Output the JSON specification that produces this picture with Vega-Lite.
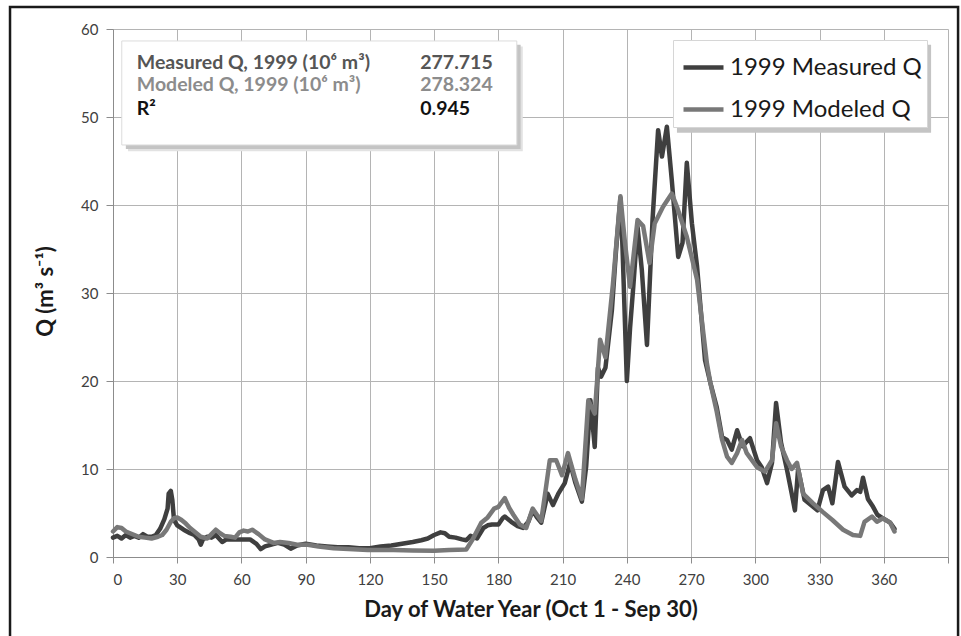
{
  "$schema": "https://vega.github.io/schema/vega-lite/v6.json",
  "width": 835,
  "height": 528,
  "autosize": {"type": "none"},
  "padding": {"left": 113, "top": 29, "right": 13, "bottom": 79},
  "background": "white",
  "config": {"view": {"stroke": null}, "font": "Lato"},
  "datasets": {
    "flow": [
      {"day": 0, "Q": 2.2, "series": "1999 Measured Q"},
      {"day": 2, "Q": 2.4, "series": "1999 Measured Q"},
      {"day": 4, "Q": 2.1, "series": "1999 Measured Q"},
      {"day": 6, "Q": 2.5, "series": "1999 Measured Q"},
      {"day": 8, "Q": 2.2, "series": "1999 Measured Q"},
      {"day": 10, "Q": 2.4, "series": "1999 Measured Q"},
      {"day": 12, "Q": 2.2, "series": "1999 Measured Q"},
      {"day": 14, "Q": 2.6, "series": "1999 Measured Q"},
      {"day": 16, "Q": 2.3, "series": "1999 Measured Q"},
      {"day": 18, "Q": 2.3, "series": "1999 Measured Q"},
      {"day": 20, "Q": 2.5, "series": "1999 Measured Q"},
      {"day": 22, "Q": 3.2, "series": "1999 Measured Q"},
      {"day": 24, "Q": 4.3, "series": "1999 Measured Q"},
      {"day": 25.5, "Q": 5.5, "series": "1999 Measured Q"},
      {"day": 26, "Q": 7.2, "series": "1999 Measured Q"},
      {"day": 27, "Q": 7.5, "series": "1999 Measured Q"},
      {"day": 27.7, "Q": 6.5, "series": "1999 Measured Q"},
      {"day": 28.5, "Q": 4.2, "series": "1999 Measured Q"},
      {"day": 30, "Q": 3.6, "series": "1999 Measured Q"},
      {"day": 33, "Q": 3.1, "series": "1999 Measured Q"},
      {"day": 36, "Q": 2.7, "series": "1999 Measured Q"},
      {"day": 38, "Q": 2.5, "series": "1999 Measured Q"},
      {"day": 40, "Q": 2.0, "series": "1999 Measured Q"},
      {"day": 41, "Q": 1.4, "series": "1999 Measured Q"},
      {"day": 42, "Q": 2.0, "series": "1999 Measured Q"},
      {"day": 44, "Q": 2.3, "series": "1999 Measured Q"},
      {"day": 46, "Q": 2.2, "series": "1999 Measured Q"},
      {"day": 48, "Q": 2.5, "series": "1999 Measured Q"},
      {"day": 51, "Q": 1.7, "series": "1999 Measured Q"},
      {"day": 53, "Q": 2.0, "series": "1999 Measured Q"},
      {"day": 57, "Q": 2.0, "series": "1999 Measured Q"},
      {"day": 60, "Q": 2.0, "series": "1999 Measured Q"},
      {"day": 64, "Q": 2.0, "series": "1999 Measured Q"},
      {"day": 67, "Q": 1.5, "series": "1999 Measured Q"},
      {"day": 69, "Q": 0.9, "series": "1999 Measured Q"},
      {"day": 71, "Q": 1.2, "series": "1999 Measured Q"},
      {"day": 74, "Q": 1.4, "series": "1999 Measured Q"},
      {"day": 77, "Q": 1.6, "series": "1999 Measured Q"},
      {"day": 80, "Q": 1.4, "series": "1999 Measured Q"},
      {"day": 83, "Q": 0.95, "series": "1999 Measured Q"},
      {"day": 86, "Q": 1.3, "series": "1999 Measured Q"},
      {"day": 90, "Q": 1.5, "series": "1999 Measured Q"},
      {"day": 95, "Q": 1.3, "series": "1999 Measured Q"},
      {"day": 100, "Q": 1.2, "series": "1999 Measured Q"},
      {"day": 105, "Q": 1.1, "series": "1999 Measured Q"},
      {"day": 110, "Q": 1.1, "series": "1999 Measured Q"},
      {"day": 115, "Q": 1.0, "series": "1999 Measured Q"},
      {"day": 120, "Q": 1.0, "series": "1999 Measured Q"},
      {"day": 125, "Q": 1.2, "series": "1999 Measured Q"},
      {"day": 130, "Q": 1.3, "series": "1999 Measured Q"},
      {"day": 135, "Q": 1.5, "series": "1999 Measured Q"},
      {"day": 140, "Q": 1.7, "series": "1999 Measured Q"},
      {"day": 144, "Q": 1.9, "series": "1999 Measured Q"},
      {"day": 147, "Q": 2.1, "series": "1999 Measured Q"},
      {"day": 150, "Q": 2.5, "series": "1999 Measured Q"},
      {"day": 153, "Q": 2.8, "series": "1999 Measured Q"},
      {"day": 155, "Q": 2.7, "series": "1999 Measured Q"},
      {"day": 157, "Q": 2.3, "series": "1999 Measured Q"},
      {"day": 160, "Q": 2.2, "series": "1999 Measured Q"},
      {"day": 163, "Q": 2.0, "series": "1999 Measured Q"},
      {"day": 165, "Q": 1.9, "series": "1999 Measured Q"},
      {"day": 167, "Q": 2.4, "series": "1999 Measured Q"},
      {"day": 170, "Q": 2.1, "series": "1999 Measured Q"},
      {"day": 173, "Q": 3.3, "series": "1999 Measured Q"},
      {"day": 175, "Q": 3.6, "series": "1999 Measured Q"},
      {"day": 177, "Q": 3.7, "series": "1999 Measured Q"},
      {"day": 180, "Q": 3.7, "series": "1999 Measured Q"},
      {"day": 182, "Q": 4.4, "series": "1999 Measured Q"},
      {"day": 183, "Q": 4.6, "series": "1999 Measured Q"},
      {"day": 186, "Q": 4.0, "series": "1999 Measured Q"},
      {"day": 189, "Q": 3.5, "series": "1999 Measured Q"},
      {"day": 191.5, "Q": 3.3, "series": "1999 Measured Q"},
      {"day": 194, "Q": 4.0, "series": "1999 Measured Q"},
      {"day": 196, "Q": 5.3, "series": "1999 Measured Q"},
      {"day": 198, "Q": 4.5, "series": "1999 Measured Q"},
      {"day": 200, "Q": 3.9, "series": "1999 Measured Q"},
      {"day": 203, "Q": 7.2, "series": "1999 Measured Q"},
      {"day": 205.5, "Q": 5.9, "series": "1999 Measured Q"},
      {"day": 208, "Q": 7.2, "series": "1999 Measured Q"},
      {"day": 211, "Q": 8.4, "series": "1999 Measured Q"},
      {"day": 213.5, "Q": 10.7, "series": "1999 Measured Q"},
      {"day": 216, "Q": 8.4, "series": "1999 Measured Q"},
      {"day": 219, "Q": 6.3, "series": "1999 Measured Q"},
      {"day": 221, "Q": 10.3, "series": "1999 Measured Q"},
      {"day": 223, "Q": 17.8, "series": "1999 Measured Q"},
      {"day": 225, "Q": 12.5, "series": "1999 Measured Q"},
      {"day": 226.5, "Q": 21.5, "series": "1999 Measured Q"},
      {"day": 228, "Q": 20.5, "series": "1999 Measured Q"},
      {"day": 230, "Q": 21.5, "series": "1999 Measured Q"},
      {"day": 233, "Q": 28.0, "series": "1999 Measured Q"},
      {"day": 235, "Q": 35.0, "series": "1999 Measured Q"},
      {"day": 237, "Q": 40.8, "series": "1999 Measured Q"},
      {"day": 238, "Q": 35.0, "series": "1999 Measured Q"},
      {"day": 240, "Q": 20.0, "series": "1999 Measured Q"},
      {"day": 241.5, "Q": 26.0, "series": "1999 Measured Q"},
      {"day": 243, "Q": 30.7, "series": "1999 Measured Q"},
      {"day": 245, "Q": 37.5, "series": "1999 Measured Q"},
      {"day": 247, "Q": 32.6, "series": "1999 Measured Q"},
      {"day": 249.4, "Q": 24.1, "series": "1999 Measured Q"},
      {"day": 252, "Q": 38.3, "series": "1999 Measured Q"},
      {"day": 254.6, "Q": 48.5, "series": "1999 Measured Q"},
      {"day": 256.4, "Q": 45.5, "series": "1999 Measured Q"},
      {"day": 258.7, "Q": 48.9, "series": "1999 Measured Q"},
      {"day": 261, "Q": 42.8, "series": "1999 Measured Q"},
      {"day": 264, "Q": 34.1, "series": "1999 Measured Q"},
      {"day": 266, "Q": 35.7, "series": "1999 Measured Q"},
      {"day": 268, "Q": 44.8, "series": "1999 Measured Q"},
      {"day": 270.4, "Q": 37.9, "series": "1999 Measured Q"},
      {"day": 272.8, "Q": 33.0, "series": "1999 Measured Q"},
      {"day": 276.5, "Q": 22.4, "series": "1999 Measured Q"},
      {"day": 279, "Q": 19.8, "series": "1999 Measured Q"},
      {"day": 282, "Q": 17.0, "series": "1999 Measured Q"},
      {"day": 284.5, "Q": 13.6, "series": "1999 Measured Q"},
      {"day": 286.8, "Q": 13.3, "series": "1999 Measured Q"},
      {"day": 289, "Q": 12.2, "series": "1999 Measured Q"},
      {"day": 291.5, "Q": 14.4, "series": "1999 Measured Q"},
      {"day": 294, "Q": 12.6, "series": "1999 Measured Q"},
      {"day": 297.5, "Q": 13.5, "series": "1999 Measured Q"},
      {"day": 300.8, "Q": 11.0, "series": "1999 Measured Q"},
      {"day": 303, "Q": 10.2, "series": "1999 Measured Q"},
      {"day": 305.5, "Q": 8.4, "series": "1999 Measured Q"},
      {"day": 307.8, "Q": 10.7, "series": "1999 Measured Q"},
      {"day": 309.7, "Q": 17.5, "series": "1999 Measured Q"},
      {"day": 312, "Q": 13.0, "series": "1999 Measured Q"},
      {"day": 314.8, "Q": 9.9, "series": "1999 Measured Q"},
      {"day": 317, "Q": 7.2, "series": "1999 Measured Q"},
      {"day": 318.5, "Q": 5.3, "series": "1999 Measured Q"},
      {"day": 320, "Q": 10.0, "series": "1999 Measured Q"},
      {"day": 323, "Q": 6.5, "series": "1999 Measured Q"},
      {"day": 327, "Q": 5.7, "series": "1999 Measured Q"},
      {"day": 329, "Q": 5.3, "series": "1999 Measured Q"},
      {"day": 331.6, "Q": 7.6, "series": "1999 Measured Q"},
      {"day": 334, "Q": 8.0, "series": "1999 Measured Q"},
      {"day": 336, "Q": 6.1, "series": "1999 Measured Q"},
      {"day": 338.6, "Q": 10.8, "series": "1999 Measured Q"},
      {"day": 341.7, "Q": 8.0, "series": "1999 Measured Q"},
      {"day": 345, "Q": 7.0, "series": "1999 Measured Q"},
      {"day": 347.5, "Q": 7.6, "series": "1999 Measured Q"},
      {"day": 349, "Q": 7.4, "series": "1999 Measured Q"},
      {"day": 350.3, "Q": 9.0, "series": "1999 Measured Q"},
      {"day": 352.6, "Q": 6.6, "series": "1999 Measured Q"},
      {"day": 355, "Q": 5.7, "series": "1999 Measured Q"},
      {"day": 357, "Q": 4.8, "series": "1999 Measured Q"},
      {"day": 359.6, "Q": 4.4, "series": "1999 Measured Q"},
      {"day": 363, "Q": 3.9, "series": "1999 Measured Q"},
      {"day": 365, "Q": 3.2, "series": "1999 Measured Q"},
      {"day": 0, "Q": 2.9, "series": "1999 Modeled Q"},
      {"day": 2, "Q": 3.4, "series": "1999 Modeled Q"},
      {"day": 4, "Q": 3.3, "series": "1999 Modeled Q"},
      {"day": 6, "Q": 2.9, "series": "1999 Modeled Q"},
      {"day": 8, "Q": 2.7, "series": "1999 Modeled Q"},
      {"day": 10, "Q": 2.5, "series": "1999 Modeled Q"},
      {"day": 12, "Q": 2.3, "series": "1999 Modeled Q"},
      {"day": 15, "Q": 2.2, "series": "1999 Modeled Q"},
      {"day": 18, "Q": 2.1, "series": "1999 Modeled Q"},
      {"day": 21, "Q": 2.3, "series": "1999 Modeled Q"},
      {"day": 23, "Q": 2.5, "series": "1999 Modeled Q"},
      {"day": 25, "Q": 3.1, "series": "1999 Modeled Q"},
      {"day": 27, "Q": 4.0, "series": "1999 Modeled Q"},
      {"day": 28.5, "Q": 4.4, "series": "1999 Modeled Q"},
      {"day": 30, "Q": 4.5, "series": "1999 Modeled Q"},
      {"day": 32, "Q": 4.2, "series": "1999 Modeled Q"},
      {"day": 34, "Q": 3.8, "series": "1999 Modeled Q"},
      {"day": 36, "Q": 3.3, "series": "1999 Modeled Q"},
      {"day": 38, "Q": 2.9, "series": "1999 Modeled Q"},
      {"day": 41, "Q": 2.3, "series": "1999 Modeled Q"},
      {"day": 44, "Q": 2.1, "series": "1999 Modeled Q"},
      {"day": 46, "Q": 2.6, "series": "1999 Modeled Q"},
      {"day": 48, "Q": 3.1, "series": "1999 Modeled Q"},
      {"day": 50, "Q": 2.7, "series": "1999 Modeled Q"},
      {"day": 52, "Q": 2.4, "series": "1999 Modeled Q"},
      {"day": 55, "Q": 2.3, "series": "1999 Modeled Q"},
      {"day": 57, "Q": 2.2, "series": "1999 Modeled Q"},
      {"day": 59, "Q": 2.8, "series": "1999 Modeled Q"},
      {"day": 61, "Q": 3.0, "series": "1999 Modeled Q"},
      {"day": 63, "Q": 2.9, "series": "1999 Modeled Q"},
      {"day": 65, "Q": 3.1, "series": "1999 Modeled Q"},
      {"day": 68, "Q": 2.6, "series": "1999 Modeled Q"},
      {"day": 71, "Q": 2.0, "series": "1999 Modeled Q"},
      {"day": 75, "Q": 1.6, "series": "1999 Modeled Q"},
      {"day": 78, "Q": 1.7, "series": "1999 Modeled Q"},
      {"day": 82, "Q": 1.6, "series": "1999 Modeled Q"},
      {"day": 86, "Q": 1.4, "series": "1999 Modeled Q"},
      {"day": 91, "Q": 1.4, "series": "1999 Modeled Q"},
      {"day": 96, "Q": 1.2, "series": "1999 Modeled Q"},
      {"day": 103, "Q": 1.0, "series": "1999 Modeled Q"},
      {"day": 110, "Q": 0.9, "series": "1999 Modeled Q"},
      {"day": 119, "Q": 0.8, "series": "1999 Modeled Q"},
      {"day": 125, "Q": 0.8, "series": "1999 Modeled Q"},
      {"day": 131, "Q": 0.8, "series": "1999 Modeled Q"},
      {"day": 140, "Q": 0.75, "series": "1999 Modeled Q"},
      {"day": 150, "Q": 0.7, "series": "1999 Modeled Q"},
      {"day": 157, "Q": 0.8, "series": "1999 Modeled Q"},
      {"day": 165, "Q": 0.85, "series": "1999 Modeled Q"},
      {"day": 168, "Q": 2.0, "series": "1999 Modeled Q"},
      {"day": 172, "Q": 3.9, "series": "1999 Modeled Q"},
      {"day": 175, "Q": 4.5, "series": "1999 Modeled Q"},
      {"day": 178, "Q": 5.5, "series": "1999 Modeled Q"},
      {"day": 180, "Q": 5.7, "series": "1999 Modeled Q"},
      {"day": 183, "Q": 6.7, "series": "1999 Modeled Q"},
      {"day": 185, "Q": 5.6, "series": "1999 Modeled Q"},
      {"day": 187, "Q": 4.8, "series": "1999 Modeled Q"},
      {"day": 190, "Q": 3.7, "series": "1999 Modeled Q"},
      {"day": 193, "Q": 3.3, "series": "1999 Modeled Q"},
      {"day": 196, "Q": 5.5, "series": "1999 Modeled Q"},
      {"day": 198, "Q": 4.8, "series": "1999 Modeled Q"},
      {"day": 200, "Q": 4.1, "series": "1999 Modeled Q"},
      {"day": 202, "Q": 7.5, "series": "1999 Modeled Q"},
      {"day": 204, "Q": 11.0, "series": "1999 Modeled Q"},
      {"day": 207, "Q": 11.0, "series": "1999 Modeled Q"},
      {"day": 209.7, "Q": 9.3, "series": "1999 Modeled Q"},
      {"day": 212.5, "Q": 11.8, "series": "1999 Modeled Q"},
      {"day": 216, "Q": 8.8, "series": "1999 Modeled Q"},
      {"day": 219, "Q": 6.6, "series": "1999 Modeled Q"},
      {"day": 222, "Q": 17.8, "series": "1999 Modeled Q"},
      {"day": 225, "Q": 16.3, "series": "1999 Modeled Q"},
      {"day": 227.5, "Q": 24.7, "series": "1999 Modeled Q"},
      {"day": 230, "Q": 22.7, "series": "1999 Modeled Q"},
      {"day": 233.5, "Q": 31.0, "series": "1999 Modeled Q"},
      {"day": 237, "Q": 41.0, "series": "1999 Modeled Q"},
      {"day": 239, "Q": 36.0, "series": "1999 Modeled Q"},
      {"day": 241.5, "Q": 30.7, "series": "1999 Modeled Q"},
      {"day": 245, "Q": 38.3, "series": "1999 Modeled Q"},
      {"day": 247.6, "Q": 37.6, "series": "1999 Modeled Q"},
      {"day": 250.6, "Q": 33.4, "series": "1999 Modeled Q"},
      {"day": 253, "Q": 37.9, "series": "1999 Modeled Q"},
      {"day": 256.9, "Q": 39.8, "series": "1999 Modeled Q"},
      {"day": 261, "Q": 41.3, "series": "1999 Modeled Q"},
      {"day": 263.4, "Q": 39.8, "series": "1999 Modeled Q"},
      {"day": 268, "Q": 36.4, "series": "1999 Modeled Q"},
      {"day": 272.8, "Q": 31.5, "series": "1999 Modeled Q"},
      {"day": 277.4, "Q": 22.0, "series": "1999 Modeled Q"},
      {"day": 279, "Q": 19.8, "series": "1999 Modeled Q"},
      {"day": 282, "Q": 16.5, "series": "1999 Modeled Q"},
      {"day": 284.5, "Q": 13.3, "series": "1999 Modeled Q"},
      {"day": 286.8, "Q": 11.4, "series": "1999 Modeled Q"},
      {"day": 289, "Q": 10.7, "series": "1999 Modeled Q"},
      {"day": 291.5, "Q": 11.8, "series": "1999 Modeled Q"},
      {"day": 293.8, "Q": 13.3, "series": "1999 Modeled Q"},
      {"day": 296, "Q": 11.8, "series": "1999 Modeled Q"},
      {"day": 300.8, "Q": 10.2, "series": "1999 Modeled Q"},
      {"day": 304.5, "Q": 9.7, "series": "1999 Modeled Q"},
      {"day": 307.8, "Q": 11.0, "series": "1999 Modeled Q"},
      {"day": 309.7, "Q": 15.2, "series": "1999 Modeled Q"},
      {"day": 312, "Q": 12.6, "series": "1999 Modeled Q"},
      {"day": 314.8, "Q": 11.0, "series": "1999 Modeled Q"},
      {"day": 317, "Q": 10.0, "series": "1999 Modeled Q"},
      {"day": 319.5, "Q": 10.7, "series": "1999 Modeled Q"},
      {"day": 322.3, "Q": 7.2, "series": "1999 Modeled Q"},
      {"day": 327, "Q": 6.1, "series": "1999 Modeled Q"},
      {"day": 331.6, "Q": 5.1, "series": "1999 Modeled Q"},
      {"day": 336, "Q": 4.2, "series": "1999 Modeled Q"},
      {"day": 341, "Q": 3.1, "series": "1999 Modeled Q"},
      {"day": 345.6, "Q": 2.5, "series": "1999 Modeled Q"},
      {"day": 349, "Q": 2.4, "series": "1999 Modeled Q"},
      {"day": 351, "Q": 4.0, "series": "1999 Modeled Q"},
      {"day": 354.5, "Q": 4.6, "series": "1999 Modeled Q"},
      {"day": 356.8, "Q": 4.0, "series": "1999 Modeled Q"},
      {"day": 359.6, "Q": 4.4, "series": "1999 Modeled Q"},
      {"day": 363, "Q": 3.9, "series": "1999 Modeled Q"},
      {"day": 365, "Q": 2.9, "series": "1999 Modeled Q"}
    ]
  },
  "layer": [
    {
      "data": {"values": [{}]},
      "mark": {"type": "rect", "filled": false, "stroke": "#1a1a1a", "strokeWidth": 2.5},
      "encoding": {
        "x": {"datum": -48.1, "type": "quantitative"},
        "x2": {"datum": 394.7},
        "y": {"datum": 62.5, "type": "quantitative"},
        "y2": {"datum": -15}
      }
    },
    {
      "data": {"name": "flow"},
      "mark": {"type": "line", "strokeWidth": 4.5, "strokeJoin": "round", "strokeCap": "round"},
      "encoding": {
        "x": {
          "field": "day", "type": "quantitative",
          "scale": {"domain": [0, 390], "nice": false, "zero": false},
          "axis": {
            "values": [0, 30, 60, 90, 120, 150, 180, 210, 240, 270, 300, 330, 360, 390],
            "labelExpr": "datum.value == 390 ? '' : datum.label",
            "grid": true, "gridColor": "#b4b4b4", "gridWidth": 1,
            "domainColor": "#8c8c8c", "tickColor": "#8c8c8c", "tickSize": 6,
            "labelFont": "Lato", "labelFontSize": 15, "labelColor": "#404040", "labelPadding": 9,
            "title": "Day of Water Year (Oct 1 - Sep 30)",
            "titleFont": "Lato", "titleFontSize": 22, "titleFontWeight": "bold", "titleColor": "#1a1a1a",
            "titleBaseline": "middle", "titleY": 52
          }
        },
        "y": {
          "field": "Q", "type": "quantitative",
          "scale": {"domain": [0, 60], "nice": false},
          "axis": {
            "values": [0, 10, 20, 30, 40, 50, 60],
            "grid": true, "gridColor": "#b4b4b4", "gridWidth": 1,
            "domainColor": "#8c8c8c", "tickColor": "#8c8c8c", "tickSize": 7,
            "labelFont": "Lato", "labelFontSize": 15, "labelColor": "#404040", "labelPadding": 8,
            "title": "Q (m³ s⁻¹)",
            "titleFont": "Lato", "titleFontSize": 22, "titleFontWeight": "bold", "titleColor": "#1a1a1a",
            "titleX": -68, "titleY": 262, "titleBaseline": "middle"
          }
        },
        "color": {
          "field": "series", "type": "nominal",
          "scale": {"domain": ["1999 Measured Q", "1999 Modeled Q"], "range": ["#3f3f3f", "#787878"]},
          "legend": {
            "orient": "none", "legendX": 560, "legendY": 11, "title": null, "direction": "vertical",
            "symbolType": "stroke", "symbolSize": 1600, "symbolStrokeWidth": 4.5,
            "labelFont": "Lato", "labelFontSize": 24, "labelColor": "#1a1a1a", "labelOffset": 4, "labelLimit": 400,
            "rowPadding": 7, "padding": 5, "symbolOffset": 3,
            "fillColor": "white", "strokeColor": "#d6d6d6"
          }
        }
      }
    },
    {
      "data": {"values": [{}]},
      "mark": {"type": "rect", "fill": "#e2e2e2"},
      "encoding": {
        "x": {"datum": 7.0, "type": "quantitative"}, "x2": {"datum": 191.4},
        "y": {"datum": 58.0, "type": "quantitative"}, "y2": {"datum": 46.1}
      }
    },
    {
      "data": {"values": [{}]},
      "mark": {"type": "rect", "fill": "#c4c4c4"},
      "encoding": {
        "x": {"datum": 6.0, "type": "quantitative"}, "x2": {"datum": 190.4},
        "y": {"datum": 58.2, "type": "quantitative"}, "y2": {"datum": 46.35}
      }
    },
    {
      "data": {"values": [{}]},
      "mark": {"type": "rect", "fill": "white", "stroke": "#dcdcdc", "strokeWidth": 1},
      "encoding": {
        "x": {"datum": 4.1, "type": "quantitative"}, "x2": {"datum": 188.6},
        "y": {"datum": 58.64, "type": "quantitative"}, "y2": {"datum": 46.82}
      }
    },
    {
      "data": {"values": [{}]},
      "mark": {"type": "text", "align": "left", "baseline": "alphabetic", "font": "Lato", "fontSize": 19.5, "fontWeight": "bold", "color": "#555555"},
      "encoding": {"x": {"datum": 11.1, "type": "quantitative"}, "y": {"datum": 55.4, "type": "quantitative"}, "text": {"value": "Measured Q, 1999 (10⁶ m³)"}}
    },
    {
      "data": {"values": [{}]},
      "mark": {"type": "text", "align": "left", "baseline": "alphabetic", "font": "Lato", "fontSize": 19.5, "fontWeight": "bold", "color": "#555555"},
      "encoding": {"x": {"datum": 143.5, "type": "quantitative"}, "y": {"datum": 55.4, "type": "quantitative"}, "text": {"value": "277.715"}}
    },
    {
      "data": {"values": [{}]},
      "mark": {"type": "text", "align": "left", "baseline": "alphabetic", "font": "Lato", "fontSize": 19.5, "fontWeight": "bold", "color": "#8c8c8c"},
      "encoding": {"x": {"datum": 11.1, "type": "quantitative"}, "y": {"datum": 52.9, "type": "quantitative"}, "text": {"value": "Modeled Q, 1999 (10⁶ m³)"}}
    },
    {
      "data": {"values": [{}]},
      "mark": {"type": "text", "align": "left", "baseline": "alphabetic", "font": "Lato", "fontSize": 19.5, "fontWeight": "bold", "color": "#8c8c8c"},
      "encoding": {"x": {"datum": 143.5, "type": "quantitative"}, "y": {"datum": 52.9, "type": "quantitative"}, "text": {"value": "278.324"}}
    },
    {
      "data": {"values": [{}]},
      "mark": {"type": "text", "align": "left", "baseline": "alphabetic", "font": "Lato", "fontSize": 19.5, "fontWeight": "bold", "color": "#111111"},
      "encoding": {"x": {"datum": 11.1, "type": "quantitative"}, "y": {"datum": 50.2, "type": "quantitative"}, "text": {"value": "R²"}}
    },
    {
      "data": {"values": [{}]},
      "mark": {"type": "text", "align": "left", "baseline": "alphabetic", "font": "Lato", "fontSize": 19.5, "fontWeight": "bold", "color": "#111111"},
      "encoding": {"x": {"datum": 143.5, "type": "quantitative"}, "y": {"datum": 50.2, "type": "quantitative"}, "text": {"value": "0.945"}}
    },
    {
      "data": {"values": [{}]},
      "mark": {"type": "rect", "fill": "#c4c4c4"},
      "encoding": {
        "x": {"datum": 263.4, "type": "quantitative"}, "x2": {"datum": 382.1},
        "y": {"datum": 58.2, "type": "quantitative"}, "y2": {"datum": 48.2}
      }
    }
  ]
}
